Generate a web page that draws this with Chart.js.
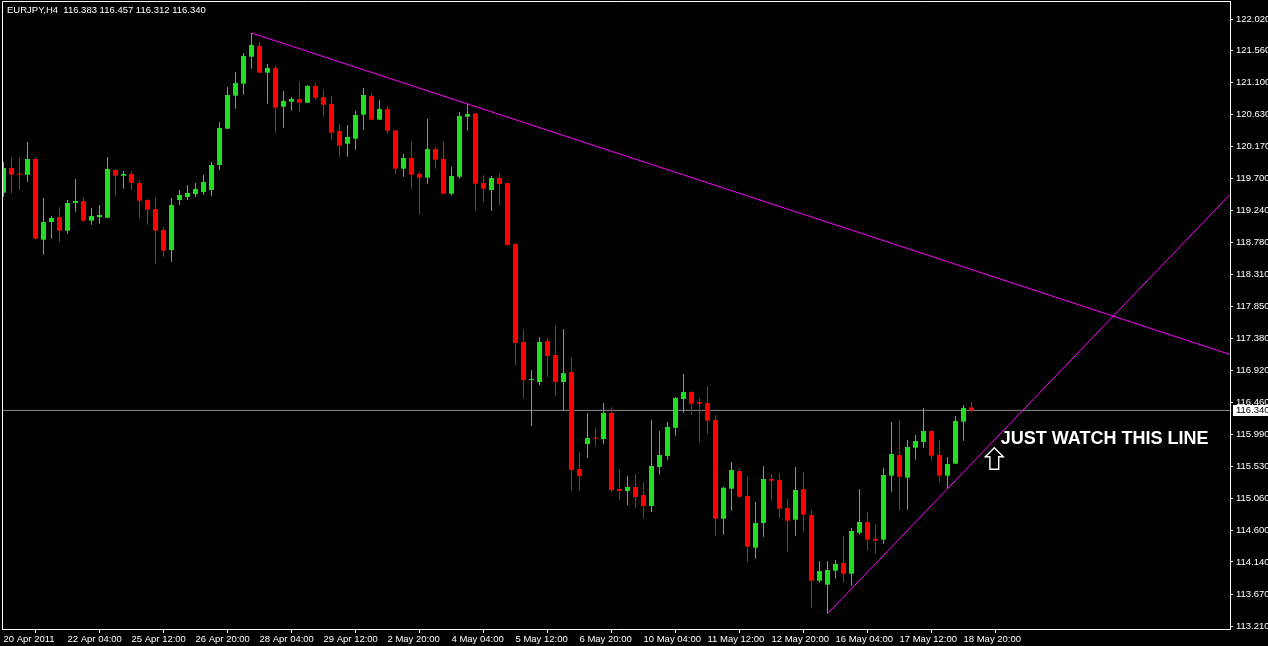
<!DOCTYPE html>
<html lang="en">
<head>
<meta charset="UTF-8">
<title>EURJPY,H4</title>
<style>
  html, body { margin: 0; padding: 0; background: #000; }
  .wrap { width: 1268px; height: 646px; }
</style>
<script src="https://cdn.jsdelivr.net/npm/chart.js"></script>
</head>
<body>
<div class="wrap"><canvas id="chart" width="1268" height="646"></canvas></div>
<script>
const symbol = 'EURJPY,H4';

// one label every 8 bars
const dateLabels = ['20 Apr 2011', '22 Apr 04:00', '25 Apr 12:00', '26 Apr 20:00', '28 Apr 04:00',
  '29 Apr 12:00', '2 May 20:00', '4 May 04:00', '5 May 12:00', '6 May 20:00', '10 May 04:00',
  '11 May 12:00', '12 May 20:00', '16 May 04:00', '17 May 12:00', '18 May 20:00'];

const yTicks = [122.02, 121.56, 121.10, 120.63, 120.17, 119.70, 119.24, 118.78, 118.31, 117.85,
  117.38, 116.92, 116.46, 115.99, 115.53, 115.06, 114.60, 114.14, 113.67, 113.21];

const opens = [119.499, 119.858, 119.771, 119.760, 119.988, 118.817, 119.074, 119.146, 118.948, 119.350,
  119.379, 119.093, 119.146, 119.136, 119.829, 119.746, 119.771, 119.640, 119.393, 119.263,
  118.958, 118.667, 119.393, 119.437, 119.480, 119.509, 119.538, 119.901, 120.428, 120.907,
  121.081, 121.473, 121.628, 121.241, 121.309, 120.747, 120.820, 120.859, 120.805, 121.048,
  120.888, 120.787, 120.395, 120.210, 120.283, 120.631, 120.903, 120.559, 120.714, 120.405,
  119.848, 120.003, 119.775, 119.717, 120.133, 119.988, 119.485, 119.731, 120.602, 120.650,
  119.640, 119.538, 119.713, 119.640, 118.755, 117.332, 116.781, 116.752, 117.347, 117.144,
  116.752, 116.897, 115.489, 115.852, 115.944, 115.924, 116.302, 115.199, 115.170, 115.228,
  115.112, 114.952, 115.518, 115.678, 116.088, 116.505, 116.607, 116.461, 116.447, 116.200,
  114.768, 115.203, 115.460, 115.097, 114.347, 114.705, 115.344, 115.329, 114.923, 114.753,
  115.199, 114.821, 113.868, 113.810, 114.013, 114.125, 113.969, 114.564, 114.720, 114.478,
  114.463, 115.392, 115.692, 115.363, 115.798, 115.881, 116.040, 115.692, 115.392, 115.566,
  116.176, 116.383];

const highs = [119.945, 120.013, 120.013, 120.235, 120.013, 119.422, 119.161, 119.292, 119.393, 119.698,
  119.437, 119.277, 119.321, 120.017, 119.843, 119.814, 119.814, 119.684, 119.408, 119.422,
  119.001, 119.422, 119.538, 119.611, 119.640, 119.756, 119.945, 120.525, 121.033, 121.251,
  121.527, 121.817, 121.686, 121.367, 121.338, 120.975, 120.888, 121.120, 121.062, 121.091,
  121.004, 120.903, 120.496, 120.482, 120.685, 121.019, 120.932, 120.845, 120.758, 120.409,
  120.061, 120.235, 119.804, 120.569, 120.162, 120.250, 119.872, 120.670, 120.787, 120.656,
  119.756, 119.742, 119.771, 119.645, 118.769, 117.521, 116.926, 117.405, 117.390, 117.564,
  117.521, 117.115, 115.736, 116.302, 116.084, 116.447, 116.389, 115.489, 115.387, 115.416,
  115.300, 116.200, 116.040, 116.171, 116.534, 116.868, 116.621, 116.519, 116.694, 116.273,
  115.232, 115.591, 115.504, 115.387, 115.010, 115.533, 115.416, 115.431, 115.054, 115.518,
  115.445, 114.894, 114.154, 114.154, 114.168, 114.517, 114.633, 115.199, 114.865, 114.691,
  115.504, 116.171, 116.200, 115.910, 115.982, 116.374, 116.055, 115.910, 115.663, 116.258,
  116.418, 116.457];

const lows = [119.441, 119.490, 119.538, 119.654, 118.823, 118.599, 118.832, 118.788, 118.904, 119.223,
  119.078, 119.035, 119.049, 119.130, 119.456, 119.557, 119.543, 119.136, 119.035, 118.469,
  118.570, 118.493, 119.321, 119.393, 119.437, 119.466, 119.451, 119.829, 120.420, 120.718,
  120.922, 121.299, 121.235, 120.791, 120.370, 120.443, 120.689, 120.675, 120.800, 120.849,
  120.602, 120.268, 120.022, 120.022, 120.123, 120.414, 120.555, 120.555, 120.356, 119.775,
  119.731, 119.557, 119.180, 119.630, 119.848, 119.480, 119.456, 119.702, 120.399, 119.238,
  119.369, 119.234, 119.321, 118.735, 116.998, 116.505, 116.113, 116.708, 116.824, 116.549,
  116.331, 115.184, 115.170, 115.649, 115.808, 115.852, 115.155, 115.039, 114.966, 114.923,
  114.763, 114.865, 115.406, 115.624, 115.972, 116.306, 116.277, 115.885, 116.002, 114.521,
  114.535, 114.884, 115.072, 114.143, 114.187, 114.506, 115.029, 114.782, 114.289, 114.521,
  114.579, 113.476, 113.839, 113.389, 113.897, 113.839, 113.795, 114.535, 114.303, 114.260,
  114.405, 115.160, 114.884, 114.898, 115.624, 115.798, 115.609, 115.305, 115.203, 115.560,
  115.900, 116.312];

const closes = [119.858, 119.760, 119.760, 119.988, 118.832, 119.074, 119.132, 118.948, 119.350, 119.379,
  119.093, 119.161, 119.176, 119.843, 119.746, 119.771, 119.644, 119.383, 119.252, 118.948,
  118.657, 119.321, 119.466, 119.495, 119.553, 119.654, 119.901, 120.438, 120.917, 121.091,
  121.483, 121.643, 121.241, 121.309, 120.733, 120.830, 120.859, 120.805, 121.048, 120.878,
  120.776, 120.370, 120.181, 120.308, 120.627, 120.917, 120.559, 120.714, 120.399, 119.848,
  120.003, 119.760, 119.717, 120.133, 119.978, 119.485, 119.742, 120.612, 120.641, 119.630,
  119.557, 119.713, 119.625, 118.740, 117.318, 116.781, 116.795, 117.332, 117.129, 116.752,
  116.882, 115.474, 115.387, 115.939, 115.929, 116.302, 115.184, 115.170, 115.228, 115.083,
  114.952, 115.533, 115.692, 116.099, 116.519, 116.607, 116.437, 116.437, 116.190, 114.768,
  115.217, 115.474, 115.087, 114.361, 114.705, 115.344, 115.319, 114.913, 114.739, 115.184,
  114.826, 113.868, 114.008, 114.023, 114.110, 113.969, 114.589, 114.720, 114.463, 114.449,
  115.402, 115.707, 115.377, 115.808, 115.895, 116.040, 115.682, 115.392, 115.561, 116.186,
  116.374, 116.340];

// trend lines: bars whose high / low they run through
const upperTouch = [31, 58];
const lowerTouch = [103, 118];

const noteText = 'JUST WATCH THIS LINE';
const noteBar = 123.85;     // arrow tip, in bars
const notePrice = 115.798;  // arrow tip, in price

// ---------------------------------------------------------------
const xMin = -0.1875, xMax = 153.3125;
const yMin = 113.167, yMax = 122.267;
const green = '#22dd22', red = '#ff0000';

const idx = closes.map((_, i) => i);
const colors = idx.map(i => closes[i] >= opens[i] ? green : red);
const last = closes.length - 1;

function ray(i0, p0, i1, p1) {
  const slope = (p1 - p0) / (i1 - i0);
  return [{ x: i0, y: p0 }, { x: xMax, y: p0 + slope * (xMax - i0) }];
}

Chart.defaults.font.family = "'Liberation Sans', Arial, sans-serif";
Chart.defaults.color = '#ffffff';

const overlay = {
  id: 'overlay',
  afterDraw(chart) {
    const ctx = chart.ctx;
    const area = chart.chartArea;
    const xs = chart.scales.x, ys = chart.scales.y;
    ctx.save();

    // frame top / left
    ctx.strokeStyle = '#ffffff';
    ctx.lineWidth = 1;
    ctx.beginPath();
    ctx.moveTo(area.left + 0.5, area.bottom);
    ctx.lineTo(area.left + 0.5, area.top - 0.5);
    ctx.lineTo(area.right + 1, area.top - 0.5);
    ctx.stroke();

    // header
    ctx.fillStyle = '#ffffff';
    ctx.font = "9.5px 'Liberation Sans', Arial, sans-serif";
    ctx.textBaseline = 'middle';
    ctx.textAlign = 'left';
    const head = symbol + '  ' + [opens[last], highs[last], lows[last], closes[last]].map(v => v.toFixed(3)).join(' ');
    ctx.fillText(head, 7, 10);

    // current price box
    const py = ys.getPixelForValue(closes[last]);
    ctx.fillStyle = '#ffffff';
    ctx.fillRect(area.right + 3, Math.round(py) - 5, 40, 11);
    ctx.fillStyle = '#000000';
    ctx.font = "9.5px 'Liberation Sans', Arial, sans-serif";
    ctx.fillText(closes[last].toFixed(3), area.right + 6, Math.round(py) + 0.5);

    // note + arrow
    const tx = xs.getPixelForValue(noteBar), ty = ys.getPixelForValue(notePrice);
    ctx.strokeStyle = '#ffffff';
    ctx.lineWidth = 1.4;
    ctx.beginPath();
    ctx.moveTo(tx, ty);
    ctx.lineTo(tx + 9, ty + 9);
    ctx.lineTo(tx + 4.4, ty + 9);
    ctx.lineTo(tx + 4.4, ty + 21.5);
    ctx.lineTo(tx - 4.4, ty + 21.5);
    ctx.lineTo(tx - 4.4, ty + 9);
    ctx.lineTo(tx - 9, ty + 9);
    ctx.closePath();
    ctx.stroke();

    ctx.fillStyle = '#ffffff';
    ctx.font = "bold 18px 'Liberation Sans', Arial, sans-serif";
    ctx.textBaseline = 'middle';
    ctx.fillText(noteText, tx + 6.5, ty - 8.5);
    ctx.restore();
  }
};

new Chart(document.getElementById('chart').getContext('2d'), {
  type: 'bar',
  data: {
    datasets: [
      {
        type: 'line',
        data: [{ x: xMin, y: closes[last] }, { x: xMax, y: closes[last] }],
        borderColor: '#8e8e8e',
        borderWidth: 1,
        pointRadius: 0,
        order: 10
      },
      {
        data: idx.map(i => ({ x: i, y: [lows[i], highs[i]] })),
        backgroundColor: colors,
        barThickness: 1,
        grouped: false,
        inflateAmount: 0,
        borderWidth: 0,
        order: 5
      },
      {
        data: idx.map(i => ({ x: i, y: [opens[i], closes[i]] })),
        backgroundColor: colors,
        barThickness: 5,
        minBarLength: 1,
        grouped: false,
        inflateAmount: 0,
        borderWidth: 0,
        order: 4
      },
      {
        type: 'line',
        data: ray(upperTouch[0], highs[upperTouch[0]], upperTouch[1], highs[upperTouch[1]]),
        borderColor: '#ff00ff',
        borderWidth: 1,
        pointRadius: 0,
        order: 1
      },
      {
        type: 'line',
        data: ray(lowerTouch[0], lows[lowerTouch[0]], lowerTouch[1], lows[lowerTouch[1]]),
        borderColor: '#ff00ff',
        borderWidth: 1,
        pointRadius: 0,
        order: 1
      }
    ]
  },
  options: {
    responsive: false,
    animation: false,
    layout: { padding: { top: 2, left: 2, right: 0, bottom: 0 } },
    plugins: { legend: { display: false }, tooltip: { enabled: false } },
    scales: {
      x: {
        type: 'linear',
        min: xMin,
        max: xMax,
        offset: false,
        grid: { drawOnChartArea: false, drawTicks: true, tickLength: 4, color: '#ffffff' },
        border: { display: true, color: '#ffffff' },
        afterBuildTicks: s => { s.ticks = dateLabels.map((_, i) => ({ value: i * 8 })); },
        afterFit: s => { s.height = 17; s.paddingLeft = 0; s.paddingRight = 0; },
        ticks: {
          autoSkip: false,
          maxRotation: 0,
          align: 'start',
          padding: 1,
          color: '#ffffff',
          font: { size: 9.5 },
          callback: (v, i) => dateLabels[i]
        }
      },
      y: {
        position: 'right',
        min: yMin,
        max: yMax,
        grid: { drawOnChartArea: false, drawTicks: true, tickLength: 3, color: '#ffffff' },
        border: { display: true, color: '#ffffff' },
        afterBuildTicks: s => { s.ticks = yTicks.map(v => ({ value: v })); },
        afterFit: s => { s.width = 38; s.paddingTop = 0; s.paddingBottom = 0; },
        ticks: {
          autoSkip: false,
          padding: 3,
          color: '#ffffff',
          font: { size: 9.5 },
          callback: v => v.toFixed(3)
        }
      }
    }
  },
  plugins: [overlay]
});
</script>
</body>
</html>
